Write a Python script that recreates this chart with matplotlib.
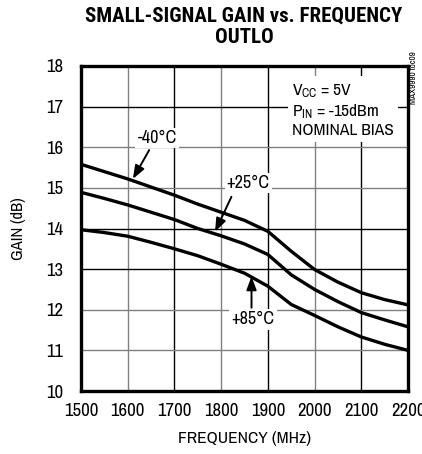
import matplotlib
matplotlib.use("Agg")
import matplotlib.pyplot as plt
from matplotlib import font_manager

# ---- data ----
freq_mhz = [1500, 1550, 1600, 1650, 1700, 1750, 1800, 1850, 1900, 1950, 2000, 2050, 2100, 2150, 2200]
gain_m40 = [15.58, 15.40, 15.22, 15.02, 14.82, 14.60, 14.40, 14.20, 13.93, 13.44, 12.99, 12.68, 12.42, 12.25, 12.12]
gain_p25 = [14.89, 14.74, 14.58, 14.40, 14.22, 14.00, 13.82, 13.62, 13.36, 12.86, 12.50, 12.20, 11.93, 11.75, 11.58]
gain_p85 = [13.97, 13.90, 13.81, 13.66, 13.50, 13.33, 13.12, 12.90, 12.58, 12.13, 11.86, 11.58, 11.33, 11.15, 11.00]
x_ticks = [1500, 1600, 1700, 1800, 1900, 2000, 2100, 2200]
y_ticks = [10, 11, 12, 13, 14, 15, 16, 17, 18]
title_text = "SMALL-SIGNAL GAIN vs. FREQUENCY\nOUTLO"
x_label = "FREQUENCY (MHz)"
y_label = "GAIN (dB)"

names = {f.name for f in font_manager.fontManager.ttflist}
def pick(cands):
    for c in cands:
        if c in names:
            return c
    return "Liberation Sans"
FONT = pick(["Archivo Narrow", "Roboto Condensed", "PT Sans Narrow", "Liberation Sans Narrow", "Liberation Sans"])
TFONT = pick(["Roboto Condensed", "Archivo Narrow", "PT Sans Narrow", "Liberation Sans Narrow", "Liberation Sans"])
plt.rcParams['font.family'] = [FONT, 'DejaVu Sans']
plt.rcParams['mathtext.fontset'] = 'custom'
plt.rcParams['mathtext.rm'] = FONT
plt.rcParams['mathtext.it'] = FONT
plt.rcParams['mathtext.bf'] = FONT

fig = plt.figure(figsize=(4.22, 4.54), dpi=100)
ax = fig.add_axes([81/422, 1-391/454, (408-81)/422, (391-66)/454])

ax.set_xlim(1500, 2200)
ax.set_ylim(10, 18)

# gridlines (mixed black / grey as in the scanned artwork)
vcol = {1600: '#808080', 1700: 'black', 1800: '#808080', 1900: 'black', 2000: '#808080', 2100: 'black'}
hcol = {11: '#808080', 12: '#808080', 13: 'black', 14: 'black', 15: '#808080', 16: '#808080', 17: 'black'}
for xv, c in vcol.items():
    ax.axvline(xv, color=c, lw=1.0, zorder=1)
for yv, c in hcol.items():
    ax.axhline(yv, color=c, lw=1.0, zorder=1)

for g in (gain_m40, gain_p25, gain_p85):
    ax.plot(freq_mhz, g, color='black', lw=2.4, zorder=3, solid_capstyle='butt')

for s in ax.spines.values():
    s.set_linewidth(2.4)
    s.set_zorder(5)

ax.set_xticks(x_ticks)
ax.set_yticks(y_ticks)
ax.tick_params(length=0, labelsize=13.5, pad=9)
ax.tick_params(axis='y', pad=13)
ax.set_xlabel(x_label, fontsize=12.5, labelpad=8)
ax.set_ylabel(y_label, fontsize=12, labelpad=14)

fig.text(244/422, 1-27/454, title_text, ha='center', va='center', fontsize=15,
         fontweight='black', linespacing=1.15, family=[TFONT, 'DejaVu Sans'])

bb = dict(facecolor='white', edgecolor='none', pad=1.5)
ap = dict(arrowstyle='-|>,head_length=0.8,head_width=0.3', color='black', lw=1.4, shrinkA=0, shrinkB=0)

ax.text(1663, 16.23, "-40°C", ha='center', va='center', fontsize=13, bbox=bb, zorder=4)
ax.annotate("", xy=(1611, 15.22), xytext=(1646, 15.93), arrowprops=ap, zorder=4)

ax.text(1858, 15.12, "+25°C", ha='center', va='center', fontsize=13, bbox=bb, zorder=4)
ax.annotate("", xy=(1787, 13.92), xytext=(1822, 14.78), arrowprops=ap, zorder=4)

ax.text(1868, 11.76, "+85°C", ha='center', va='center', fontsize=13, bbox=bb, zorder=4)
ax.annotate("", xy=(1865, 12.82), xytext=(1865, 12.05), arrowprops=ap, zorder=4)

cond = "V$_{\\mathrm{CC}}$ = 5V\nP$_{\\mathrm{IN}}$ = -15dBm\nNOMINAL BIAS"
ax.text(1952, 17.6, cond, ha='left', va='top', fontsize=12.5, linespacing=1.15,
        bbox=dict(facecolor='white', edgecolor='none', pad=3), zorder=4)

fig.text(414/422, 1-78/454, "MAX9990 toc09", rotation=90, ha='center', va='center', fontsize=6.5)

fig.savefig("out.png", dpi=100)
